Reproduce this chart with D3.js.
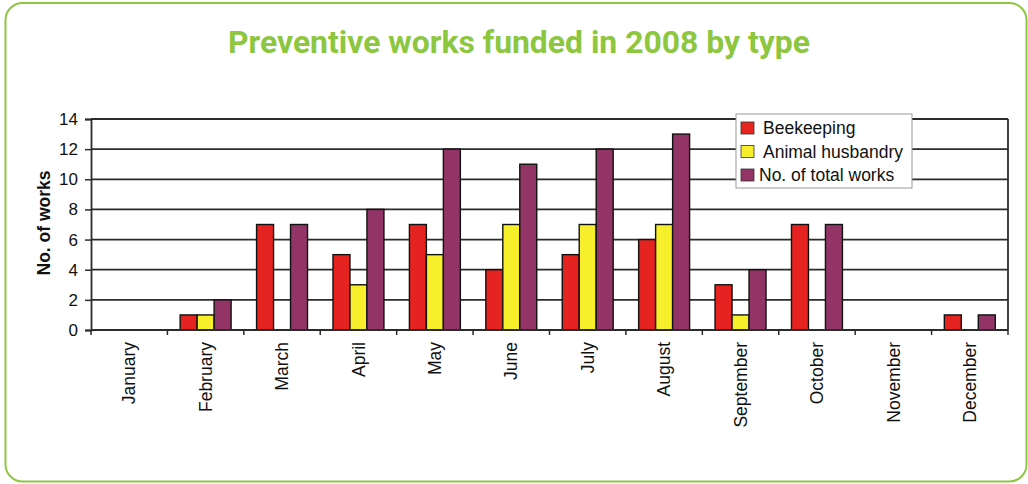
<!DOCTYPE html>
<html>
<head>
<meta charset="utf-8">
<script src="https://cdn.jsdelivr.net/npm/d3@7"></script>
<style>
  html, body { margin: 0; padding: 0; background: #fff; }
  svg { display: block; }
</style>
</head>
<body>
<svg id="chart" width="1028" height="484"></svg>
<script>
// Monthly counts of preventive works funded in 2008
const months = ["January", "February", "March", "April", "May", "June",
                "July", "August", "September", "October", "November", "December"];
const seriesNames = ["Beekeeping", "Animal husbandry", "No. of total works"];
const beekeeping = [0, 1, 7, 5, 7, 4, 5, 6, 3, 7, 0, 1];
const animalHusbandry = [0, 1, 0, 3, 5, 7, 7, 7, 1, 0, 0, 0];
const totalWorks = [0, 2, 7, 8, 12, 11, 12, 13, 4, 7, 0, 1];
const yTicks = [0, 2, 4, 6, 8, 10, 12, 14];
const seriesColors = ["#e52421", "#f7ee2c", "#923566"];

const svg = d3.select("#chart");
const green = "#8dc63f";

// Rounded card frame
svg.append("rect")
  .attr("x", 5.5).attr("y", 3).attr("width", 1021).attr("height", 478.5)
  .attr("rx", 17).attr("ry", 17)
  .attr("fill", "#fff").attr("stroke", green).attr("stroke-width", 2);

// Title
svg.append("text")
  .attr("x", 228).attr("y", 53)
  .attr("textLength", 582).attr("lengthAdjust", "spacingAndGlyphs")
  .attr("font-family", "Roboto, 'DejaVu Sans', sans-serif")
  .attr("font-weight", 700).attr("font-size", 31)
  .attr("fill", green)
  .text("Preventive works funded in 2008 by type");

const plot = { left: 91, right: 1008, top: 119, bottom: 330 };
const font = "'Liberation Sans', Arial, sans-serif";

const x = d3.scaleBand().domain(months).range([plot.left, plot.right]).paddingInner(0).paddingOuter(0);
const xSub = d3.scaleBand().domain(seriesNames).range([0, x.bandwidth()]).paddingInner(0).paddingOuter(0.75);
const y = d3.scaleLinear().domain([0, 14]).range([plot.bottom, plot.top]);

const g = svg.append("g");

// Horizontal gridlines
g.selectAll("line.grid").data(yTicks.filter(d => d > 0)).join("line")
  .attr("class", "grid")
  .attr("x1", plot.left).attr("x2", plot.right)
  .attr("y1", d => y(d)).attr("y2", d => y(d))
  .attr("stroke", "#2b2b2b").attr("stroke-width", 1.8);

// Right border of the plot area
g.append("line")
  .attr("x1", plot.right).attr("x2", plot.right)
  .attr("y1", plot.top).attr("y2", plot.bottom)
  .attr("stroke", "#2b2b2b").attr("stroke-width", 1.8);

// Bars
const series = [beekeeping, animalHusbandry, totalWorks];
series.forEach((vals, si) => {
  g.selectAll("rect.s" + si)
    .data(months.map((m, i) => ({ m, v: vals[i] })).filter(d => d.v > 0))
    .join("rect")
    .attr("class", "s" + si)
    .attr("x", d => x(d.m) + xSub(seriesNames[si]))
    .attr("width", xSub.bandwidth())
    .attr("y", d => y(d.v))
    .attr("height", d => y(0) - y(d.v))
    .attr("fill", seriesColors[si])
    .attr("stroke", "#111").attr("stroke-width", 1.4);
});

// Y axis
const yAxis = d3.axisLeft(y).tickValues(yTicks).tickSize(6).tickPadding(7);
const yg = svg.append("g").attr("transform", `translate(${plot.left},0)`).call(yAxis);
yg.select(".domain").attr("stroke", "#2b2b2b").attr("stroke-width", 1.8);
yg.selectAll(".tick line").attr("stroke", "#2b2b2b").attr("stroke-width", 1.5);
yg.selectAll(".tick text").attr("font-family", font).attr("font-size", 17).attr("fill", "#111");

// X axis with tick marks at the category boundaries
const xg = svg.append("g").attr("transform", `translate(0,${plot.bottom})`);
xg.append("line")
  .attr("x1", plot.left).attr("x2", plot.right)
  .attr("stroke", "#2b2b2b").attr("stroke-width", 1.8);
const bounds = months.map(m => x(m)).concat([plot.right]);
xg.selectAll("line.tk").data(bounds).join("line")
  .attr("class", "tk")
  .attr("x1", d => d).attr("x2", d => d)
  .attr("y1", 0).attr("y2", 5)
  .attr("stroke", "#2b2b2b").attr("stroke-width", 1.5);
xg.selectAll("text").data(months).join("text")
  .attr("transform", d => `translate(${x(d) + x.bandwidth() / 2},12) rotate(-90)`)
  .attr("text-anchor", "end")
  .attr("dy", "0.35em")
  .attr("font-family", font).attr("font-size", 17.5).attr("fill", "#111")
  .text(d => d);

// Y axis title
svg.append("text")
  .attr("transform", "translate(50,223) rotate(-90)")
  .attr("text-anchor", "middle")
  .attr("font-family", font).attr("font-weight", 700).attr("font-size", 17.5)
  .attr("fill", "#111")
  .text("No. of works");

// Legend
const lg = svg.append("g").attr("transform", "translate(736,114)");
lg.append("rect").attr("width", 176).attr("height", 74)
  .attr("fill", "#fff").attr("stroke", "#9a9a9a").attr("stroke-width", 1);
seriesNames.forEach((name, i) => {
  lg.append("rect")
    .attr("x", 5).attr("y", 8 + i * 23.5).attr("width", 13).attr("height", 12)
    .attr("fill", seriesColors[i]).attr("stroke", "#333").attr("stroke-width", 0.8);
  lg.append("text")
    .attr("x", i === 2 ? 23 : 27).attr("y", 20 + i * 23.5)
    .attr("font-family", font).attr("font-size", 17.5).attr("fill", "#111")
    .text(name);
});
</script>
</body>
</html>
